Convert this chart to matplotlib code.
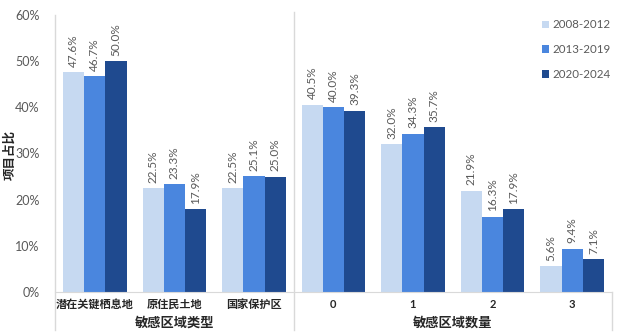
import matplotlib
matplotlib.use("Agg")
import matplotlib.pyplot as plt
from matplotlib.patches import Patch
import numpy as np

plt.rcParams['font.family'] = ['Lato', 'Noto Sans CJK SC', 'DejaVu Sans']

# Categories: first three are region types, last four are region counts
categories = ["潜在关键栖息地", "原住民土地", "国家保护区", "0", "1", "2", "3"]
group_titles = ["敏感区域类型", "敏感区域数量"]
periods = ["2008-2012", "2013-2019", "2020-2024"]
share_2008_2012 = [47.6, 22.5, 22.5, 40.5, 32.0, 21.9, 5.6]
share_2013_2019 = [46.7, 23.3, 25.1, 40.0, 34.3, 16.3, 9.4]
share_2020_2024 = [50.0, 17.9, 25.0, 39.3, 35.7, 17.9, 7.1]
y_ticks = [0, 10, 20, 30, 40, 50, 60]

colors = ["#C6D9F1", "#4A86DE", "#1F4A8F"]
grey = "#595959"
line_grey = "#D9D9D9"

fig = plt.figure(figsize=(6.36, 3.33), dpi=100)
ax = fig.add_axes([55/636, 1-292/333, (612-55)/636, (292-15)/333])

n = len(categories)
x = np.arange(n)
bar_w = 0.8 / 3
series = [share_2008_2012, share_2013_2019, share_2020_2024]
for i, (vals, c, lab) in enumerate(zip(series, colors, periods)):
    pos = x + (i - 1) * bar_w
    ax.bar(pos, vals, width=bar_w, color=c, label=lab, zorder=2)
    for px, v in zip(pos, vals):
        ax.annotate(f"{v:.1f}%", (px, v), xytext=(0, 4), textcoords="offset points",
                    rotation=90, ha="center", va="bottom", fontsize=8.5, color=grey)

ax.set_xlim(-0.5, n - 0.5)
ax.set_ylim(0, 60)
ax.set_yticks(y_ticks)
ax.set_yticklabels([f"{t}%" for t in y_ticks], fontsize=9, color=grey)
ax.set_xticks(x)
ax.set_xticklabels(categories, fontsize=8, color="#262626", fontweight="bold")
ax.tick_params(axis="both", length=0)
ax.tick_params(axis="x", pad=5)
ax.tick_params(axis="y", pad=11)

for s in ["top", "right", "left"]:
    ax.spines[s].set_visible(False)
ax.spines["bottom"].set_color(line_grey)

# Vertical frame lines of the two category groups
ax.axvline(-0.5, ymin=-0.137, ymax=1.0, color=line_grey, lw=1, clip_on=False)
ax.axvline(2.5, ymin=-0.137, ymax=1.01, color=line_grey, lw=1, clip_on=False)
ax.axvline(n - 0.5, ymin=-0.137, ymax=0, color=line_grey, lw=1, clip_on=False)

# Group titles below the category labels
ax.text(1.0, -0.108, group_titles[0], transform=ax.get_xaxis_transform(),
        ha="center", va="center", fontsize=9.5, color="#262626", fontweight="bold")
ax.text(4.5, -0.108, group_titles[1], transform=ax.get_xaxis_transform(),
        ha="center", va="center", fontsize=9.5, color="#262626", fontweight="bold")

fig.text(9/636, 1-155/333, "项目占比", rotation=90, ha="center", va="center",
         fontsize=9, color="#262626", fontweight="bold")

handles = [Patch(facecolor=c, edgecolor="none") for c in colors]
fig.legend(handles, periods, loc="upper left", bbox_to_anchor=(532/636, 1-9/333),
           frameon=False, fontsize=8.3, handlelength=0.6, handleheight=0.6,
           handletextpad=0.25, labelspacing=1.2, labelcolor=grey)

fig.savefig("out.png", dpi=100)
